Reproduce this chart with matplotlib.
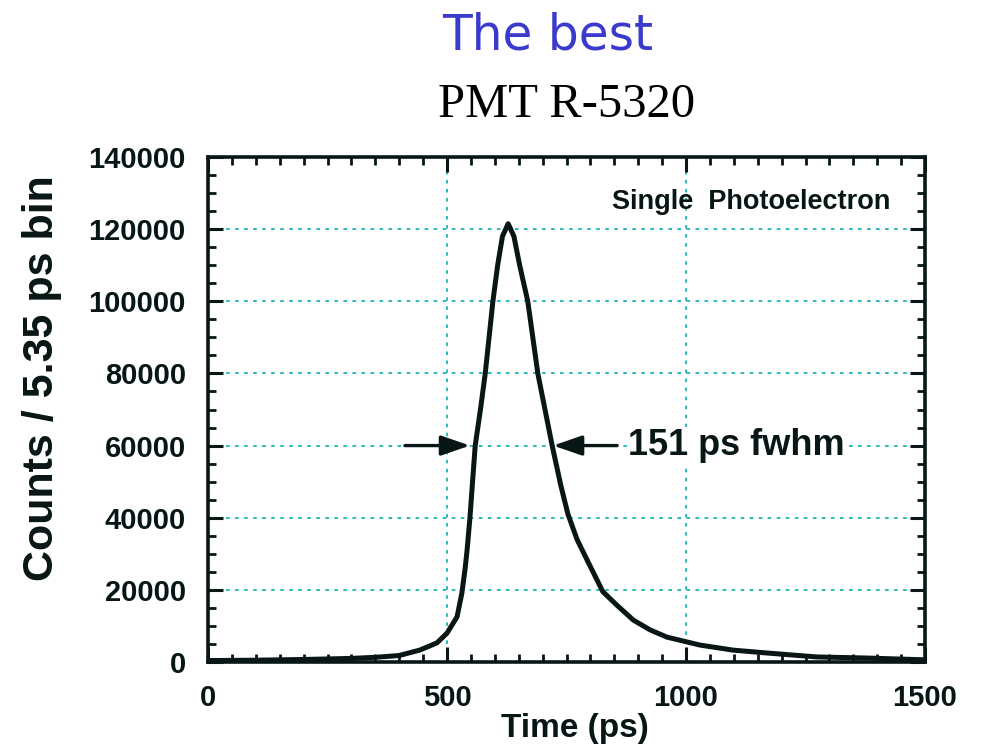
import matplotlib
matplotlib.use("Agg")
import matplotlib.pyplot as plt
from matplotlib.ticker import MultipleLocator

# ---- data ----
time_ps = [0, 100, 200, 300, 350, 400, 443, 479, 500, 521, 531, 538, 542, 548,
           559, 570, 580, 596, 606, 616, 628, 640, 652, 669, 690, 705, 720, 738,
           753, 772, 793, 826, 855, 890, 925, 960, 1029, 1098, 1169, 1274, 1379, 1500]
counts = [400, 500, 700, 1000, 1300, 1800, 3300, 5300, 8000, 12500, 19000, 26000, 31000, 40000,
          60000, 70000, 80000, 100000, 110000, 118000, 121500, 118000, 110000, 100000, 80000, 70000, 60000, 49000,
          41000, 34000, 28300, 19500, 15800, 11600, 8900, 6900, 4700, 3300, 2500, 1400, 1100, 600]

x_ticks = [0, 500, 1000, 1500]
y_ticks = [0, 20000, 40000, 60000, 80000, 100000, 120000, 140000]
x_grid = [500, 1000]
y_grid = [20000, 40000, 60000, 80000, 100000, 120000]

fwhm_level = 60000
left_arrow = (412, 548)    # tail, tip (ps)
right_arrow = (856, 722)   # tail, tip (ps)

title_top = "The best"
title_sub = "PMT R-5320"
ylabel = "Counts / 5.35 ps bin"
xlabel = "Time (ps)"
label_pe = "Single  Photoelectron"
label_fwhm = "151 ps fwhm"

# ---- figure ----
W, H = 989, 754
fig = plt.figure(figsize=(W / 100, H / 100), dpi=100, facecolor="white")
ax = fig.add_axes([208 / W, 1 - 662 / H, (925 - 208) / W, (662 - 157) / H])

ink = "#081616"
grid_c = "#1cb4b4"
sans = ["Liberation Sans", "DejaVu Sans"]

for gx in x_grid:
    ax.axvline(gx, color=grid_c, lw=1.3, ls=(0, (2, 3)), zorder=1)
for gy in y_grid:
    ax.axhline(gy, color=grid_c, lw=1.3, ls=(0, (2, 3)), zorder=1)

ax.plot(time_ps, counts, color=ink, lw=3.6, solid_joinstyle="round",
        solid_capstyle="round", zorder=3)

ax.set_xlim(0, 1500)
ax.set_ylim(0, 140000)
ax.set_xticks(x_ticks)
ax.set_yticks(y_ticks)
ax.xaxis.set_minor_locator(MultipleLocator(50))
ax.yaxis.set_minor_locator(MultipleLocator(5000))

lab_font = dict(family=sans, weight="bold", size=21)
ax.set_xticklabels([str(v) for v in x_ticks], fontdict=lab_font, color=ink)
ax.set_yticklabels([str(v) for v in y_ticks], fontdict=lab_font, color=ink)
ax.tick_params(which="both", direction="in", top=True, right=True, color=ink)
ax.tick_params(which="major", length=11, width=2.2, pad=16)
ax.tick_params(which="minor", length=6, width=2)
for s in ax.spines.values():
    s.set_linewidth(2.6)
    s.set_color(ink)

# annotations
arrow_kw = dict(arrowstyle="-|>,head_length=1.1,head_width=0.38", color=ink, lw=2.4,
                shrinkA=0, shrinkB=0, mutation_scale=16)
ax.annotate("", xy=(left_arrow[1], fwhm_level), xytext=(left_arrow[0], fwhm_level),
            arrowprops=arrow_kw, zorder=4)
ax.annotate("", xy=(right_arrow[1], fwhm_level), xytext=(right_arrow[0], fwhm_level),
            arrowprops=arrow_kw, zorder=4)

ax.text(879, fwhm_level, label_fwhm, family=sans, weight="bold", size=26,
        color=ink, ha="left", va="center", zorder=5,
        bbox=dict(facecolor="white", edgecolor="none", pad=1))
ax.text(845, 127500, label_pe, family=sans, weight="bold",
        size=19.5, color=ink, ha="left", va="center", zorder=5)

fig.text(575 / W, 1 - 737 / H, xlabel, family=sans, weight="bold", size=24,
         color=ink, ha="center", va="baseline")
fig.text(42 / W, 1 - 378 / H, ylabel, family=sans,
         weight="bold", size=31, color=ink, ha="center", va="center", rotation=90)

fig.text(548 / W, 1 - 35 / H, title_top, family=["DejaVu Sans"], size=35,
         color="#3a3acc", ha="center", va="center")
fig.text(567 / W, 1 - 105 / H, title_sub, family=["Liberation Serif", "DejaVu Serif"],
         size=35, color="black", ha="center", va="center")

fig.savefig("out.png", dpi=100, facecolor="white")
